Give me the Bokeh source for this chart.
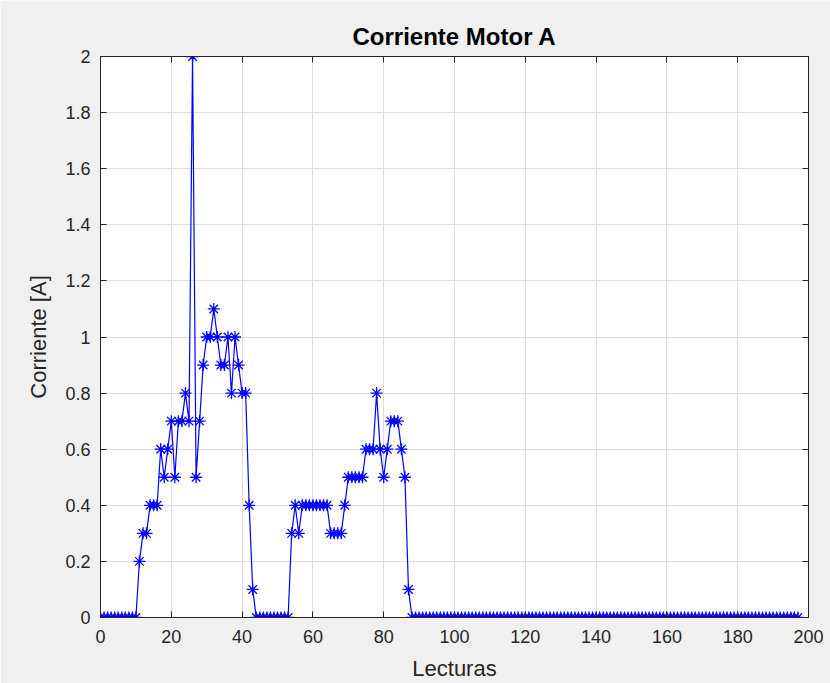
from bokeh.plotting import figure
from bokeh.embed import file_html
from bokeh.resources import INLINE
from bokeh.models import LinearAxis, FixedTicker, NumeralTickFormatter, ColumnDataSource

titulo = "Corriente Motor A"
etiqueta_x = "Lecturas"
etiqueta_y = "Corriente [A]"

corriente = [
    0, 0, 0, 0, 0, 0, 0, 0, 0, 0,
    0, 0.2, 0.3, 0.3, 0.4, 0.4, 0.4, 0.6, 0.5, 0.6,
    0.7, 0.5, 0.7, 0.7, 0.8, 0.7, 2.0, 0.5, 0.7, 0.9,
    1.0, 1.0, 1.1, 1.0, 0.9, 0.9, 1.0, 0.8, 1.0, 0.9,
    0.8, 0.8, 0.4, 0.1, 0, 0, 0, 0, 0, 0,
    0, 0, 0, 0, 0.3, 0.4, 0.3, 0.4, 0.4, 0.4,
    0.4, 0.4, 0.4, 0.4, 0.4, 0.3, 0.3, 0.3, 0.3, 0.4,
    0.5, 0.5, 0.5, 0.5, 0.5, 0.6, 0.6, 0.6, 0.8, 0.6,
    0.5, 0.6, 0.7, 0.7, 0.7, 0.6, 0.5, 0.1, 0, 0,
    0, 0, 0, 0, 0, 0, 0, 0, 0, 0,
    0, 0, 0, 0, 0, 0, 0, 0, 0, 0,
    0, 0, 0, 0, 0, 0, 0, 0, 0, 0,
    0, 0, 0, 0, 0, 0, 0, 0, 0, 0,
    0, 0, 0, 0, 0, 0, 0, 0, 0, 0,
    0, 0, 0, 0, 0, 0, 0, 0, 0, 0,
    0, 0, 0, 0, 0, 0, 0, 0, 0, 0,
    0, 0, 0, 0, 0, 0, 0, 0, 0, 0,
    0, 0, 0, 0, 0, 0, 0, 0, 0, 0,
    0, 0, 0, 0, 0, 0, 0, 0, 0, 0,
    0, 0, 0, 0, 0, 0, 0, 0,
]
lecturas = list(range(len(corriente)))

x_ticks = [0, 20, 40, 60, 80, 100, 120, 140, 160, 180, 200]
y_ticks = [0, 0.2, 0.4, 0.6, 0.8, 1.0, 1.2, 1.4, 1.6, 1.8, 2.0]

FONT = "Liberation Sans"
AXC = "#262626"

src = ColumnDataSource(dict(x=lecturas, y=corriente))

p = figure(width=830, height=683, x_range=(0, 200), y_range=(0, 2),
           output_backend="svg", toolbar_location=None,
           background_fill_color="white", border_fill_color="#F0F0F0",
           min_border_left=100, min_border_right=22, min_border_top=56,
           min_border_bottom=66, x_axis_location=None, y_axis_location=None)

p.title.text = titulo
p.title.align = "center"
p.title.text_font = FONT
p.title.text_font_size = "24px"
p.title.text_font_style = "bold"
p.title.text_color = "black"
p.title.standoff = 14

p.outline_line_color = AXC
p.outline_line_width = 1

def make_axis(ticks, fmt=None, show_labels=True, label=None, label_standoff=10,
              tick_standoff=10):
    ax = LinearAxis(ticker=FixedTicker(ticks=ticks))
    if fmt is not None:
        ax.formatter = fmt
    ax.axis_line_color = AXC
    ax.major_tick_line_color = AXC
    ax.major_tick_in = 6
    ax.major_tick_out = 0
    ax.minor_tick_line_color = None
    ax.major_label_text_font = FONT
    ax.major_label_text_font_size = "18px"
    ax.major_label_text_color = AXC
    ax.major_label_standoff = tick_standoff
    if not show_labels:
        ax.major_label_text_color = None
        ax.major_label_text_alpha = 0
        ax.major_label_text_font_size = "0px"
        ax.major_label_standoff = 0
    if label:
        ax.axis_label = label
        ax.axis_label_text_font = FONT
        ax.axis_label_text_font_size = "22px"
        ax.axis_label_text_font_style = "normal"
        ax.axis_label_text_color = AXC
        ax.axis_label_standoff = label_standoff
    return ax

xb = make_axis(x_ticks, label=etiqueta_x, label_standoff=10, tick_standoff=12)
yl = make_axis(y_ticks, fmt=NumeralTickFormatter(format="0.[0]"), label=etiqueta_y,
               label_standoff=11)
xt = make_axis(x_ticks, show_labels=False)
yr = make_axis(y_ticks, show_labels=False)
p.add_layout(xb, "below")
p.add_layout(yl, "left")
p.add_layout(xt, "above")
p.add_layout(yr, "right")

p.xgrid.ticker = FixedTicker(ticks=x_ticks)
p.ygrid.ticker = FixedTicker(ticks=y_ticks)
for g in (p.xgrid, p.ygrid):
    g.grid_line_color = "#DCDCDC"
    g.grid_line_width = 1

p.line("x", "y", source=src, line_color="#0000FF", line_width=1.2)
p.scatter("x", "y", source=src, marker="asterisk", size=12,
          line_color="#0000FF", line_width=1.3)

open("out.html", "w").write(file_html(p, INLINE))
